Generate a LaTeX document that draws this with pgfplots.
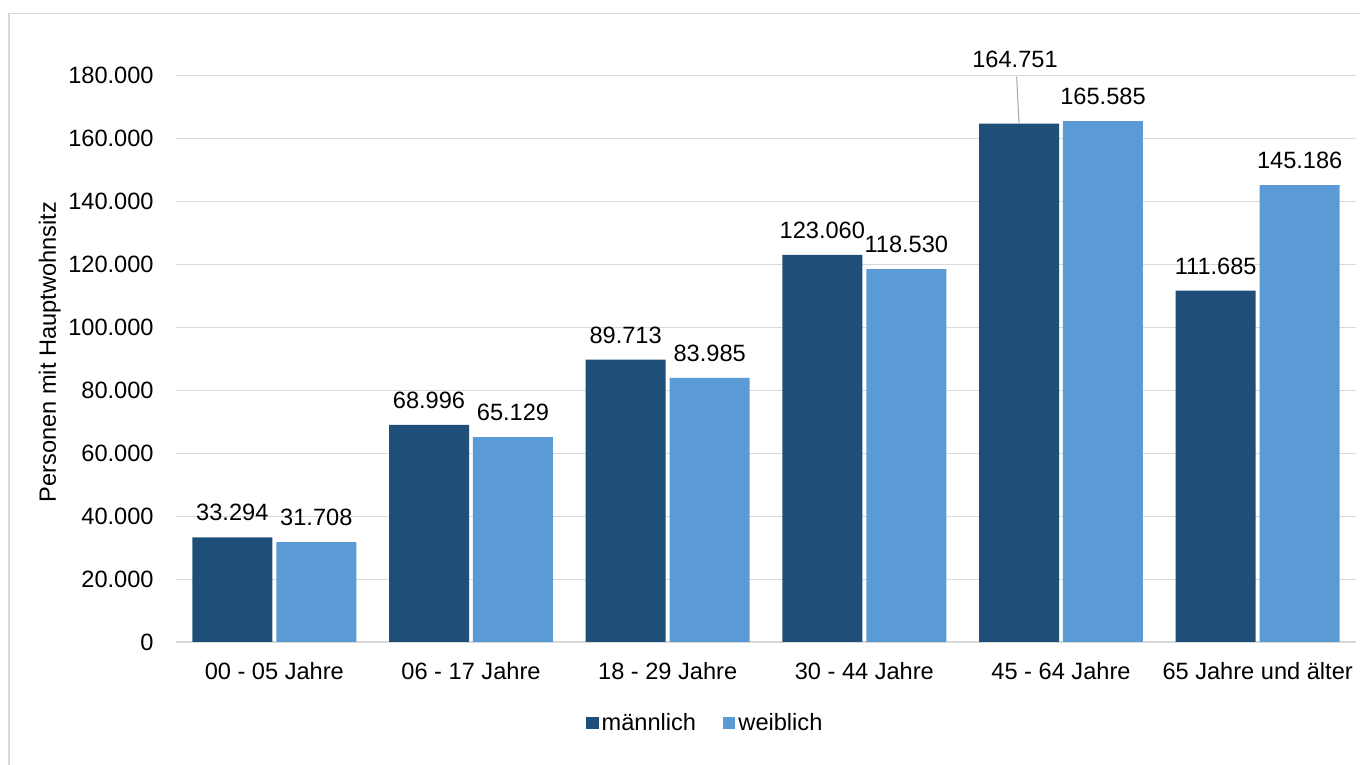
\documentclass[border=0pt]{standalone}
\usepackage{pgfplots}
\usepackage{pgfplotstable}
\pgfplotsset{compat=1.18}
\usepackage{fontspec}
\setmainfont{Liberation Sans}

\definecolor{maennlich}{HTML}{1F4E79}
\definecolor{weiblich}{HTML}{5B9BD5}
\definecolor{gridgray}{HTML}{D9D9D9}
\definecolor{leader}{HTML}{A6A6A6}

% age groups at x = 0..5; dx/dy place the value labels over their bars (pt)
\pgfplotstableread{
x  m       dxm  dym   w       dxw  dyw
0  33294   -21  8.2   31708   21   8.2
1  68996   -21  8.2   65129   21   8.2
2  89713   -21  8.2   83985   21   8.2
3  123060  -21  8.2   118530  21   8.2
4  164751  -23  27.9  165585  21   8.2
5  111685  -21  8.2   145186  21   8.2
}\bevoelkerung

\begin{document}
\begin{tikzpicture}[font=\fontsize{11.8pt}{14pt}\selectfont]
\useasboundingbox (0,0) rectangle (680pt,382.5pt);
\draw[gridgray, line width=0.6pt] (4.5pt,0) -- (4.5pt,375.6pt) -- (680pt,375.6pt);
\begin{axis}[
  at={(88pt,61.5pt)}, anchor=south west,
  scale only axis, width=590pt, height=283.15pt,
  xmin=-0.5, xmax=5.5, ymin=0, ymax=180000,
  clip=false,
  axis lines*=left,
  y axis line style={draw=none},
  x axis line style={draw=gridgray, line width=1pt},
  major tick length=0pt,
  ymajorgrids, major grid style={draw=gridgray, line width=0.55pt},
  ytick={0,20000,...,180000},
  xtick={0,...,5},
  xticklabels={00 - 05 Jahre, 06 - 17 Jahre, 18 - 29 Jahre, 30 - 44 Jahre, 45 - 64 Jahre, 65 Jahre und älter},
  scaled y ticks=false,
  /pgf/number format/.cd, fixed, precision=0, 1000 sep={.}, assume math mode=true,
  /pgfplots/.cd,
  yticklabel style={anchor=east, inner sep=0pt, xshift=-11pt},
  xticklabel style={anchor=base, inner sep=0pt, yshift=-18.65pt},
  ylabel={Personen mit Hauptwohnsitz},
  every axis y label/.style={at={(axis description cs:-0.1017,0.512)}, rotate=90, anchor=base},
  legend style={at={(axis description cs:0.449,-0.143)}, anchor=center, draw=none,
    legend columns=-1, inner sep=0pt,
    /tikz/every even column/.append style={column sep=12pt},
    nodes={inner sep=1.5pt}},
  legend image code/.code={\fill[#1] (0pt,-3.1pt) rectangle (6.2pt,3.1pt);},
  nodes near coords,
  nodes near coords style={anchor=base, inner sep=0pt, xshift=\dx pt, yshift=\dy pt, text=black},
]
\addplot[ybar, fill=maennlich, draw=none, bar width=0.4068, bar shift=-0.2135,
  visualization depends on={\thisrow{dxm} \as \dx},
  visualization depends on={\thisrow{dym} \as \dy}]
  table[x=x, y=m] {\bevoelkerung};
\addlegendentry{männlich}
\addplot[ybar, fill=weiblich, draw=none, bar width=0.4068, bar shift=0.2135,
  visualization depends on={\thisrow{dxw} \as \dx},
  visualization depends on={\thisrow{dyw} \as \dy}]
  table[x=x, y=w] {\bevoelkerung};
\addlegendentry{weiblich}
% leader line of the moved label
\draw[leader, line width=0.5pt] (axis cs:3.7747,179700) -- (axis cs:3.7865,164751);
\end{axis}
\end{tikzpicture}
\end{document}
